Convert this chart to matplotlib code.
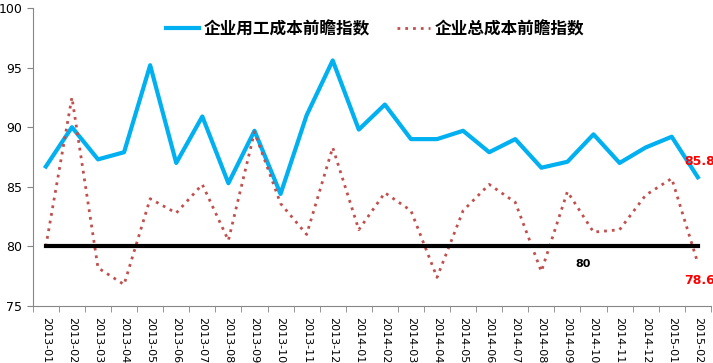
import matplotlib.pyplot as plt

plt.rcParams['font.family'] = ['Noto Sans CJK SC', 'DejaVu Sans']

months = ['2013-01', '2013-02', '2013-03', '2013-04', '2013-05', '2013-06', '2013-07',
          '2013-08', '2013-09', '2013-10', '2013-11', '2013-12', '2014-01', '2014-02',
          '2014-03', '2014-04', '2014-05', '2014-06', '2014-07', '2014-08', '2014-09',
          '2014-10', '2014-11', '2014-12', '2015-01', '2015-02']
labor_cost = [86.7, 90.0, 87.3, 87.9, 95.2, 87.0, 90.9, 85.3, 89.7, 84.4, 91.0, 95.6, 89.8,
              91.9, 89.0, 89.0, 89.7, 87.9, 89.0, 86.6, 87.1, 89.4, 87.0, 88.3, 89.2, 85.8]
total_cost = [80.0, 92.5, 78.2, 76.8, 84.0, 82.8, 85.2, 80.5, 89.6, 83.6, 81.0, 88.3, 81.4,
              84.5, 83.0, 77.4, 83.0, 85.2, 83.7, 77.9, 84.6, 81.2, 81.4, 84.3, 85.7, 78.6]
baseline = 80

fig = plt.figure(figsize=(7.13, 3.63), dpi=100)
ax = fig.add_axes([0.046, 0.157, 0.951, 0.821])

x = list(range(len(months)))
ax.plot(x, labor_cost, color='#00B0F0', linewidth=3, label='企业用工成本前瞻指数')
ax.plot(x, total_cost, color='#C0504D', linewidth=2, linestyle=(0, (1, 1.8)),
        label='企业总成本前瞻指数')
ax.plot([x[0], x[-1]], [baseline, baseline], color='black', linewidth=3)

ax.text(20.6, 78.5, '80', fontsize=8, fontweight='bold', ha='center', va='center',
        family=['DejaVu Sans'])
ax.text(x[-1] + 0.05, labor_cost[-1] + 1.3, f'{labor_cost[-1]}', color='red', fontsize=9,
        fontweight='bold', ha='center', va='center', family=['DejaVu Sans'])
ax.text(x[-1] + 0.05, total_cost[-1] - 1.5, f'{total_cost[-1]}', color='red', fontsize=9,
        fontweight='bold', ha='center', va='center', family=['DejaVu Sans'])

ax.set_xlim(-0.5, len(months) - 0.5)
ax.set_ylim(75, 100)
ax.set_yticks([75, 80, 85, 90, 95, 100])
ax.set_xticks(x)
ax.set_xticklabels(months, rotation=270, fontsize=8, family=['DejaVu Sans'])
ax.set_xticks([i - 0.5 for i in range(len(months) + 1)], minor=True)
ax.tick_params(axis='x', which='major', length=0, pad=8)
ax.tick_params(axis='x', which='minor', length=4, color='#868686')
ax.tick_params(axis='y', length=4, color='#868686', labelsize=9)
for lbl in ax.get_yticklabels():
    lbl.set_family(['DejaVu Sans'])

for side in ['top', 'right']:
    ax.spines[side].set_visible(False)
for side in ['left', 'bottom']:
    ax.spines[side].set_color('#868686')

leg = ax.legend(loc='upper center', bbox_to_anchor=(0.505, 1.01), ncol=2, frameon=False,
                prop={'size': 12, 'weight': 'bold'}, handlelength=2.0, columnspacing=1.6,
                handletextpad=0.3)

fig.savefig('out.png', dpi=100)
